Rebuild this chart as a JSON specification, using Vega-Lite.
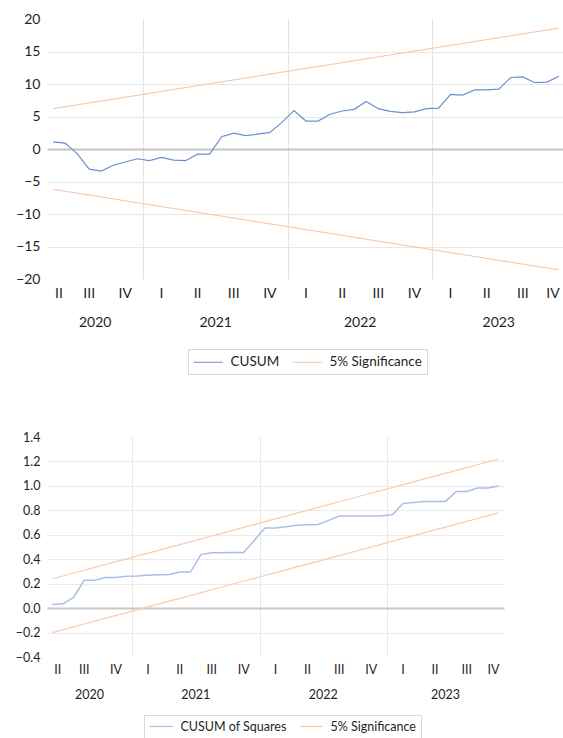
{
  "$schema": "https://vega.github.io/schema/vega-lite/v6.json",
  "padding": {"left": 15, "top": 12, "right": 0, "bottom": 0},
  "background": "white",
  "config": {
    "view": {"stroke": null},
    "font": "Lato",
    "axis": {"labelFont": "Lato", "labelColor": "#1F1F1F", "domain": false, "ticks": false, "title": null}
  },
  "datasets": {
    "d": [
      {"obs": 1, "month": "2020-05", "yr": "2020", "q": "II", "yq": "2020-II", "cusum": 1.1, "hi": 6.20, "lo": -6.20, "sq": 0.030, "sqhi": 0.240, "sqlo": -0.200},
      {"obs": 2, "month": "2020-06", "yr": "2020", "q": "II", "yq": "2020-II", "cusum": 0.9, "hi": 6.50, "lo": -6.50, "sq": 0.035, "sqhi": 0.263, "sqlo": -0.177},
      {"obs": 3, "month": "2020-07", "yr": "2020", "q": "III", "yq": "2020-III", "cusum": -0.7, "hi": 6.79, "lo": -6.79, "sq": 0.087, "sqhi": 0.287, "sqlo": -0.153},
      {"obs": 4, "month": "2020-08", "yr": "2020", "q": "III", "yq": "2020-III", "cusum": -3.1, "hi": 7.09, "lo": -7.09, "sq": 0.227, "sqhi": 0.310, "sqlo": -0.130},
      {"obs": 5, "month": "2020-09", "yr": "2020", "q": "III", "yq": "2020-III", "cusum": -3.4, "hi": 7.38, "lo": -7.38, "sq": 0.227, "sqhi": 0.333, "sqlo": -0.107},
      {"obs": 6, "month": "2020-10", "yr": "2020", "q": "IV", "yq": "2020-IV", "cusum": -2.5, "hi": 7.68, "lo": -7.68, "sq": 0.250, "sqhi": 0.357, "sqlo": -0.083},
      {"obs": 7, "month": "2020-11", "yr": "2020", "q": "IV", "yq": "2020-IV", "cusum": -2.0, "hi": 7.97, "lo": -7.97, "sq": 0.250, "sqhi": 0.380, "sqlo": -0.060},
      {"obs": 8, "month": "2020-12", "yr": "2020", "q": "IV", "yq": "2020-IV", "cusum": -1.5, "hi": 8.27, "lo": -8.27, "sq": 0.260, "sqhi": 0.403, "sqlo": -0.037},
      {"obs": 9, "month": "2021-01", "yr": "2021", "q": "I", "yq": "2021-I", "cusum": -1.8, "hi": 8.56, "lo": -8.56, "sq": 0.262, "sqhi": 0.427, "sqlo": -0.013},
      {"obs": 10, "month": "2021-02", "yr": "2021", "q": "I", "yq": "2021-I", "cusum": -1.3, "hi": 8.86, "lo": -8.86, "sq": 0.268, "sqhi": 0.450, "sqlo": 0.010},
      {"obs": 11, "month": "2021-03", "yr": "2021", "q": "I", "yq": "2021-I", "cusum": -1.7, "hi": 9.15, "lo": -9.15, "sq": 0.273, "sqhi": 0.473, "sqlo": 0.033},
      {"obs": 12, "month": "2021-04", "yr": "2021", "q": "II", "yq": "2021-II", "cusum": -1.8, "hi": 9.45, "lo": -9.45, "sq": 0.276, "sqhi": 0.497, "sqlo": 0.057},
      {"obs": 13, "month": "2021-05", "yr": "2021", "q": "II", "yq": "2021-II", "cusum": -0.8, "hi": 9.74, "lo": -9.74, "sq": 0.295, "sqhi": 0.520, "sqlo": 0.080},
      {"obs": 14, "month": "2021-06", "yr": "2021", "q": "II", "yq": "2021-II", "cusum": -0.8, "hi": 10.04, "lo": -10.04, "sq": 0.295, "sqhi": 0.543, "sqlo": 0.103},
      {"obs": 15, "month": "2021-07", "yr": "2021", "q": "III", "yq": "2021-III", "cusum": 1.9, "hi": 10.33, "lo": -10.33, "sq": 0.440, "sqhi": 0.567, "sqlo": 0.127},
      {"obs": 16, "month": "2021-08", "yr": "2021", "q": "III", "yq": "2021-III", "cusum": 2.45, "hi": 10.63, "lo": -10.63, "sq": 0.453, "sqhi": 0.590, "sqlo": 0.150},
      {"obs": 17, "month": "2021-09", "yr": "2021", "q": "III", "yq": "2021-III", "cusum": 2.05, "hi": 10.92, "lo": -10.92, "sq": 0.453, "sqhi": 0.613, "sqlo": 0.173},
      {"obs": 18, "month": "2021-10", "yr": "2021", "q": "IV", "yq": "2021-IV", "cusum": 2.3, "hi": 11.22, "lo": -11.22, "sq": 0.456, "sqhi": 0.637, "sqlo": 0.197},
      {"obs": 19, "month": "2021-11", "yr": "2021", "q": "IV", "yq": "2021-IV", "cusum": 2.55, "hi": 11.51, "lo": -11.51, "sq": 0.456, "sqhi": 0.660, "sqlo": 0.220},
      {"obs": 20, "month": "2021-12", "yr": "2021", "q": "IV", "yq": "2021-IV", "cusum": 4.1, "hi": 11.81, "lo": -11.81, "sq": 0.554, "sqhi": 0.683, "sqlo": 0.243},
      {"obs": 21, "month": "2022-01", "yr": "2022", "q": "I", "yq": "2022-I", "cusum": 5.9, "hi": 12.10, "lo": -12.10, "sq": 0.655, "sqhi": 0.707, "sqlo": 0.267},
      {"obs": 22, "month": "2022-02", "yr": "2022", "q": "I", "yq": "2022-I", "cusum": 4.3, "hi": 12.40, "lo": -12.40, "sq": 0.655, "sqhi": 0.730, "sqlo": 0.290},
      {"obs": 23, "month": "2022-03", "yr": "2022", "q": "I", "yq": "2022-I", "cusum": 4.3, "hi": 12.69, "lo": -12.69, "sq": 0.665, "sqhi": 0.753, "sqlo": 0.313},
      {"obs": 24, "month": "2022-04", "yr": "2022", "q": "II", "yq": "2022-II", "cusum": 5.35, "hi": 12.99, "lo": -12.99, "sq": 0.677, "sqhi": 0.777, "sqlo": 0.337},
      {"obs": 25, "month": "2022-05", "yr": "2022", "q": "II", "yq": "2022-II", "cusum": 5.85, "hi": 13.28, "lo": -13.28, "sq": 0.683, "sqhi": 0.800, "sqlo": 0.360},
      {"obs": 26, "month": "2022-06", "yr": "2022", "q": "II", "yq": "2022-II", "cusum": 6.1, "hi": 13.58, "lo": -13.58, "sq": 0.685, "sqhi": 0.823, "sqlo": 0.383},
      {"obs": 27, "month": "2022-07", "yr": "2022", "q": "III", "yq": "2022-III", "cusum": 7.3, "hi": 13.88, "lo": -13.88, "sq": 0.718, "sqhi": 0.847, "sqlo": 0.407},
      {"obs": 28, "month": "2022-08", "yr": "2022", "q": "III", "yq": "2022-III", "cusum": 6.2, "hi": 14.17, "lo": -14.17, "sq": 0.753, "sqhi": 0.870, "sqlo": 0.430},
      {"obs": 29, "month": "2022-09", "yr": "2022", "q": "III", "yq": "2022-III", "cusum": 5.8, "hi": 14.47, "lo": -14.47, "sq": 0.753, "sqhi": 0.893, "sqlo": 0.453},
      {"obs": 30, "month": "2022-10", "yr": "2022", "q": "IV", "yq": "2022-IV", "cusum": 5.6, "hi": 14.76, "lo": -14.76, "sq": 0.753, "sqhi": 0.917, "sqlo": 0.477},
      {"obs": 31, "month": "2022-11", "yr": "2022", "q": "IV", "yq": "2022-IV", "cusum": 5.7, "hi": 15.06, "lo": -15.06, "sq": 0.753, "sqhi": 0.940, "sqlo": 0.500},
      {"obs": 32, "month": "2022-12", "yr": "2022", "q": "IV", "yq": "2022-IV", "cusum": 6.2, "hi": 15.35, "lo": -15.35, "sq": 0.756, "sqhi": 0.963, "sqlo": 0.523},
      {"obs": 33, "month": "2023-01", "yr": "2023", "q": "I", "yq": "2023-I", "cusum": 6.3, "hi": 15.65, "lo": -15.65, "sq": 0.764, "sqhi": 0.987, "sqlo": 0.547},
      {"obs": 34, "month": "2023-02", "yr": "2023", "q": "I", "yq": "2023-I", "cusum": 8.4, "hi": 15.94, "lo": -15.94, "sq": 0.857, "sqhi": 1.010, "sqlo": 0.570},
      {"obs": 35, "month": "2023-03", "yr": "2023", "q": "I", "yq": "2023-I", "cusum": 8.3, "hi": 16.24, "lo": -16.24, "sq": 0.865, "sqhi": 1.033, "sqlo": 0.593},
      {"obs": 36, "month": "2023-04", "yr": "2023", "q": "II", "yq": "2023-II", "cusum": 9.1, "hi": 16.53, "lo": -16.53, "sq": 0.873, "sqhi": 1.057, "sqlo": 0.617},
      {"obs": 37, "month": "2023-05", "yr": "2023", "q": "II", "yq": "2023-II", "cusum": 9.1, "hi": 16.83, "lo": -16.83, "sq": 0.873, "sqhi": 1.080, "sqlo": 0.640},
      {"obs": 38, "month": "2023-06", "yr": "2023", "q": "II", "yq": "2023-II", "cusum": 9.2, "hi": 17.12, "lo": -17.12, "sq": 0.873, "sqhi": 1.103, "sqlo": 0.663},
      {"obs": 39, "month": "2023-07", "yr": "2023", "q": "III", "yq": "2023-III", "cusum": 11.0, "hi": 17.42, "lo": -17.42, "sq": 0.955, "sqhi": 1.127, "sqlo": 0.687},
      {"obs": 40, "month": "2023-08", "yr": "2023", "q": "III", "yq": "2023-III", "cusum": 11.1, "hi": 17.71, "lo": -17.71, "sq": 0.955, "sqhi": 1.150, "sqlo": 0.710},
      {"obs": 41, "month": "2023-09", "yr": "2023", "q": "III", "yq": "2023-III", "cusum": 10.2, "hi": 18.01, "lo": -18.01, "sq": 0.983, "sqhi": 1.173, "sqlo": 0.733},
      {"obs": 42, "month": "2023-10", "yr": "2023", "q": "IV", "yq": "2023-IV", "cusum": 10.3, "hi": 18.30, "lo": -18.30, "sq": 0.983, "sqhi": 1.197, "sqlo": 0.757},
      {"obs": 43, "month": "2023-11", "yr": "2023", "q": "IV", "yq": "2023-IV", "cusum": 11.2, "hi": 18.60, "lo": -18.60, "sq": 1.000, "sqhi": 1.220, "sqlo": 0.780}
    ]
  },
  "data": {"name": "d"},
  "resolve": {"scale": {"color": "independent"}},
  "spacing": 56,
  "vconcat": [
    {
      "width": 518,
      "height": 260,
      "layer": [
        {
          "mark": {"type": "line", "strokeWidth": 1.2},
          "encoding": {
            "x": {"field": "obs", "type": "quantitative", "scale": {"domain": [0.5, 43.5], "nice": false, "zero": false}, "axis": {"values": [8.5, 20.5, 32.5], "labels": false, "grid": true, "gridColor": "#E3E3E3", "title": null}},
            "y": {"field": "cusum", "type": "quantitative", "scale": {"domain": [-20, 20], "nice": false}, "axis": {"values": [-20, -15, -10, -5, 0, 5, 10, 15, 20], "labelFontSize": 14, "labelPadding": 7, "title": null, "gridColor": {"condition": {"test": "datum.value === 0", "value": "#C4C4C4"}, "value": "#E8E8E8"}, "gridWidth": {"condition": {"test": "datum.value === 0", "value": 2}, "value": 1}, "gridOpacity": {"condition": {"test": "abs(datum.value) === 20", "value": 0}, "value": 1}}},
            "color": {"datum": "CUSUM", "type": "nominal", "scale": {"domain": ["CUSUM", "5% Significance"], "range": ["#6C8FD3", "#F7C4A2"]}, "legend": {"orient": "none", "legendX": 141, "legendY": 330, "direction": "horizontal", "title": null, "symbolType": "M-1,0H3", "symbolSize": 210, "symbolStrokeWidth": 1, "labelFontSize": 13.5, "labelFont": "Lato", "labelColor": "#1F1F1F", "padding": 5, "strokeColor": "#D9D9D9", "fillColor": "white", "columnPadding": 10, "labelOffset": 21.5}}
          }
        },
        {
          "mark": {"type": "line", "strokeWidth": 1},
          "encoding": {
            "x": {"field": "obs", "type": "quantitative", "scale": {"domain": [0.5, 43.5], "nice": false, "zero": false}, "axis": {"values": [8.5, 20.5, 32.5], "labels": false, "grid": true, "gridColor": "#E3E3E3", "title": null}},
            "y": {"field": "hi", "type": "quantitative", "scale": {"domain": [-20, 20], "nice": false}, "axis": {"values": [-20, -15, -10, -5, 0, 5, 10, 15, 20], "labelFontSize": 14, "labelPadding": 7, "title": null, "gridColor": {"condition": {"test": "datum.value === 0", "value": "#C4C4C4"}, "value": "#E8E8E8"}, "gridWidth": {"condition": {"test": "datum.value === 0", "value": 2}, "value": 1}, "gridOpacity": {"condition": {"test": "abs(datum.value) === 20", "value": 0}, "value": 1}}},
            "color": {"datum": "5% Significance", "type": "nominal"}
          }
        },
        {
          "mark": {"type": "line", "strokeWidth": 1},
          "encoding": {
            "x": {"field": "obs", "type": "quantitative", "scale": {"domain": [0.5, 43.5], "nice": false, "zero": false}, "axis": {"values": [8.5, 20.5, 32.5], "labels": false, "grid": true, "gridColor": "#E3E3E3", "title": null}},
            "y": {"field": "lo", "type": "quantitative", "scale": {"domain": [-20, 20], "nice": false}, "axis": {"values": [-20, -15, -10, -5, 0, 5, 10, 15, 20], "labelFontSize": 14, "labelPadding": 7, "title": null, "gridColor": {"condition": {"test": "datum.value === 0", "value": "#C4C4C4"}, "value": "#E8E8E8"}, "gridWidth": {"condition": {"test": "datum.value === 0", "value": 2}, "value": 1}, "gridOpacity": {"condition": {"test": "abs(datum.value) === 20", "value": 0}, "value": 1}}},
            "color": {"datum": "5% Significance", "type": "nominal"}
          }
        },
        {
          "mark": {"type": "text", "fontSize": 14, "font": "Lato", "color": "#1F1F1F", "baseline": "middle"},
          "encoding": {
            "x": {"aggregate": "mean", "field": "obs", "type": "quantitative", "scale": {"domain": [0.5, 43.5], "nice": false, "zero": false}, "axis": {"values": [8.5, 20.5, 32.5], "labels": false, "grid": true, "gridColor": "#E3E3E3", "title": null}},
            "detail": {"field": "yq"},
            "text": {"field": "q"},
            "y": {"value": 275}
          }
        },
        {
          "mark": {"type": "text", "fontSize": 14, "font": "Lato", "color": "#1F1F1F", "baseline": "middle"},
          "encoding": {
            "x": {"aggregate": "mean", "field": "obs", "type": "quantitative", "scale": {"domain": [0.5, 43.5], "nice": false, "zero": false}, "axis": {"values": [8.5, 20.5, 32.5], "labels": false, "grid": true, "gridColor": "#E3E3E3", "title": null}},
            "text": {"field": "yr"},
            "y": {"value": 304}
          }
        }
      ]
    },
    {
      "width": 457,
      "height": 220,
      "layer": [
        {
          "mark": {"type": "line", "strokeWidth": 1.5},
          "encoding": {
            "x": {"field": "obs", "type": "quantitative", "scale": {"domain": [0.5, 43.5], "nice": false, "zero": false}, "axis": {"values": [8.5, 20.5, 32.5], "labels": false, "grid": true, "gridColor": "#E8E8E8", "title": null}},
            "y": {"field": "sq", "type": "quantitative", "scale": {"domain": [-0.4, 1.4], "nice": false}, "axis": {"values": [-0.4, -0.2, 0, 0.2, 0.4, 0.6, 0.8, 1, 1.2, 1.4], "format": ".1f", "labelFontSize": 12.5, "labelPadding": 7, "title": null, "gridColor": {"condition": {"test": "abs(datum.value) < 0.001", "value": "#C8C8C8"}, "value": "#EBEBEB"}, "gridWidth": {"condition": {"test": "abs(datum.value) < 0.001", "value": 2}, "value": 1}, "gridOpacity": {"condition": {"test": "datum.value < -0.39 || datum.value > 1.39", "value": 0}, "value": 1}}},
            "color": {"datum": "CUSUM of Squares", "type": "nominal", "scale": {"domain": ["CUSUM of Squares", "5% Significance"], "range": ["#A9BEE6", "#F8CBAD"]}, "legend": {"orient": "none", "legendX": 97, "legendY": 278, "direction": "horizontal", "title": null, "symbolType": "M-1,0H3", "symbolSize": 132, "symbolStrokeWidth": 1.2, "labelFontSize": 12.5, "labelFont": "Lato", "labelColor": "#1F1F1F", "padding": 5, "strokeColor": "#D9D9D9", "fillColor": "white", "columnPadding": 10, "labelOffset": 18.5}}
          }
        },
        {
          "mark": {"type": "line", "strokeWidth": 1.2},
          "encoding": {
            "x": {"field": "obs", "type": "quantitative", "scale": {"domain": [0.5, 43.5], "nice": false, "zero": false}, "axis": {"values": [8.5, 20.5, 32.5], "labels": false, "grid": true, "gridColor": "#E8E8E8", "title": null}},
            "y": {"field": "sqhi", "type": "quantitative", "scale": {"domain": [-0.4, 1.4], "nice": false}, "axis": {"values": [-0.4, -0.2, 0, 0.2, 0.4, 0.6, 0.8, 1, 1.2, 1.4], "format": ".1f", "labelFontSize": 12.5, "labelPadding": 7, "title": null, "gridColor": {"condition": {"test": "abs(datum.value) < 0.001", "value": "#C8C8C8"}, "value": "#EBEBEB"}, "gridWidth": {"condition": {"test": "abs(datum.value) < 0.001", "value": 2}, "value": 1}, "gridOpacity": {"condition": {"test": "datum.value < -0.39 || datum.value > 1.39", "value": 0}, "value": 1}}},
            "color": {"datum": "5% Significance", "type": "nominal"}
          }
        },
        {
          "mark": {"type": "line", "strokeWidth": 1.2},
          "encoding": {
            "x": {"field": "obs", "type": "quantitative", "scale": {"domain": [0.5, 43.5], "nice": false, "zero": false}, "axis": {"values": [8.5, 20.5, 32.5], "labels": false, "grid": true, "gridColor": "#E8E8E8", "title": null}},
            "y": {"field": "sqlo", "type": "quantitative", "scale": {"domain": [-0.4, 1.4], "nice": false}, "axis": {"values": [-0.4, -0.2, 0, 0.2, 0.4, 0.6, 0.8, 1, 1.2, 1.4], "format": ".1f", "labelFontSize": 12.5, "labelPadding": 7, "title": null, "gridColor": {"condition": {"test": "abs(datum.value) < 0.001", "value": "#C8C8C8"}, "value": "#EBEBEB"}, "gridWidth": {"condition": {"test": "abs(datum.value) < 0.001", "value": 2}, "value": 1}, "gridOpacity": {"condition": {"test": "datum.value < -0.39 || datum.value > 1.39", "value": 0}, "value": 1}}},
            "color": {"datum": "5% Significance", "type": "nominal"}
          }
        },
        {
          "mark": {"type": "text", "fontSize": 12.5, "font": "Lato", "color": "#1F1F1F", "baseline": "middle"},
          "encoding": {
            "x": {"aggregate": "mean", "field": "obs", "type": "quantitative", "scale": {"domain": [0.5, 43.5], "nice": false, "zero": false}, "axis": {"values": [8.5, 20.5, 32.5], "labels": false, "grid": true, "gridColor": "#E8E8E8", "title": null}},
            "detail": {"field": "yq"},
            "text": {"field": "q"},
            "y": {"value": 233}
          }
        },
        {
          "mark": {"type": "text", "fontSize": 12.5, "font": "Lato", "color": "#1F1F1F", "baseline": "middle"},
          "encoding": {
            "x": {"aggregate": "mean", "field": "obs", "type": "quantitative", "scale": {"domain": [0.5, 43.5], "nice": false, "zero": false}, "axis": {"values": [8.5, 20.5, 32.5], "labels": false, "grid": true, "gridColor": "#E8E8E8", "title": null}},
            "text": {"field": "yr"},
            "y": {"value": 258}
          }
        }
      ]
    }
  ]
}
